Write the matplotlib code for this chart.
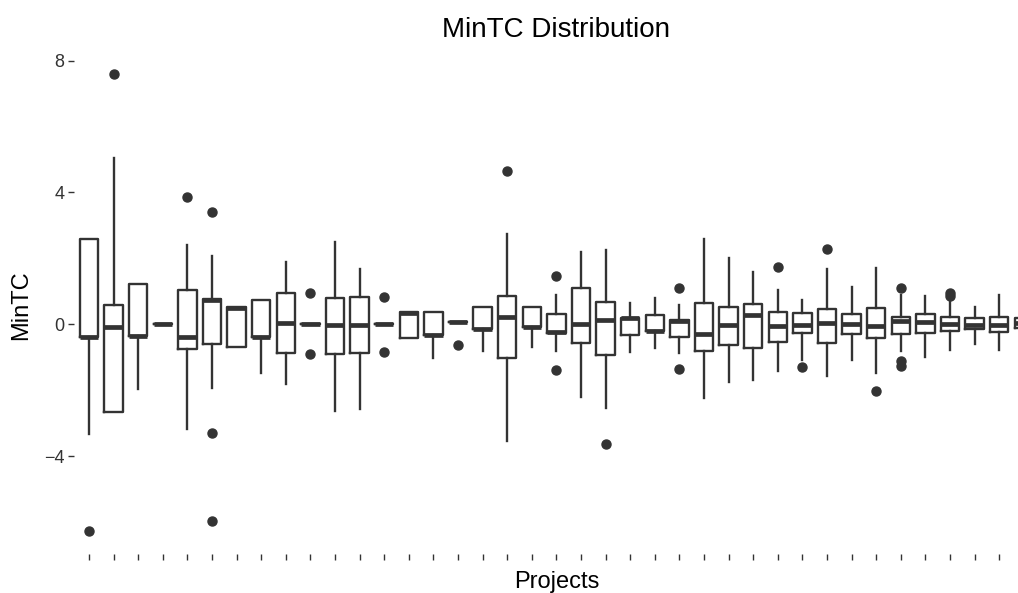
import matplotlib
matplotlib.use("Agg")
import matplotlib.pyplot as plt

# 各プロジェクトの箱ひげ図の統計値
whislo = [-3.33, -2.65, -1.97, 0.0, -3.18, -1.93, -0.67, -1.46, -1.82, 0.0,
          -2.61, -2.55, 0.0, -0.40, -1.03, 0.08, -0.81, -3.54, -0.68, -0.81,
          -2.19, -2.54, -0.84, -0.71, -0.86, -2.24, -1.74, -1.67, -1.41, -1.08,
          -1.57, -1.09, -1.46, -0.81, -0.99, -0.76, -0.58, -0.78, -0.10]
q1 = [-0.38, -2.65, -0.35, 0.0, -0.74, -0.60, -0.67, -0.38, -0.88, 0.0,
      -0.91, -0.87, 0.0, -0.40, -0.33, 0.08, -0.15, -1.03, -0.07, -0.26,
      -0.56, -0.94, -0.33, -0.21, -0.38, -0.81, -0.61, -0.71, -0.52, -0.27,
      -0.57, -0.29, -0.42, -0.28, -0.25, -0.20, -0.15, -0.23, -0.10]
med = [-0.38, -0.07, -0.35, 0.0, -0.38, 0.74, 0.50, -0.38, 0.04, 0.0,
       -0.03, -0.02, 0.0, 0.36, -0.33, 0.08, -0.15, 0.24, -0.07, -0.23,
       0.02, 0.13, 0.18, -0.21, 0.10, -0.30, -0.03, 0.29, -0.05, -0.02,
       0.05, 0.02, -0.05, 0.09, 0.07, 0.02, -0.03, -0.03, 0.05]
q3 = [2.58, 0.575, 1.24, 0.0, 1.04, 0.78, 0.53, 0.73, 0.96, 0.0,
      0.80, 0.83, 0.0, 0.38, 0.37, 0.08, 0.54, 0.87, 0.54, 0.32,
      1.11, 0.67, 0.20, 0.29, 0.12, 0.66, 0.53, 0.61, 0.37, 0.35,
      0.47, 0.32, 0.49, 0.23, 0.32, 0.24, 0.21, 0.23, 0.20]
whishi = [2.58, 5.05, 1.24, 0.0, 2.42, 2.07, 0.53, 0.73, 1.89, 0.0,
          2.50, 1.67, 0.0, 0.38, 0.37, 0.08, 0.54, 2.74, 0.54, 0.88,
          2.20, 2.26, 0.66, 0.79, 0.59, 2.58, 2.01, 1.59, 1.04, 0.74,
          1.67, 1.12, 1.72, 0.88, 0.87, 0.69, 0.54, 0.90, 0.20]
fliers = [[-6.27], [7.60], [], [], [3.86], [3.41, -3.28, -5.96], [], [], [], [0.94, -0.91],
          [], [], [0.83, -0.83], [], [], [-0.61], [], [4.65], [], [1.46, -1.38],
          [], [-3.62], [], [], [1.11, -1.36], [], [], [], [1.73], [-1.29],
          [2.30], [], [-2.02], [1.11, -1.12, -1.26], [], [0.96, 0.86], [], [], []]

stats = []
for i in range(len(med)):
    stats.append(dict(whislo=whislo[i], q1=q1[i], med=med[i], q3=q3[i],
                      whishi=whishi[i], fliers=fliers[i]))

col = "#333333"
plt.rcParams["font.family"] = ["Liberation Sans", "DejaVu Sans"]

fig = plt.figure(figsize=(10.18, 5.93), dpi=100)
# パネルは右端で切れている (元画像と同じ)
left, right, top, bottom = 74.2, 1038.6, 51, 554
ax = fig.add_axes([left / 1018, 1 - bottom / 593, (right - left) / 1018, (bottom - top) / 593])

ax.bxp(stats, positions=range(1, len(med) + 1), widths=0.75, showcaps=False,
       boxprops=dict(color=col, linewidth=1.7),
       whiskerprops=dict(color=col, linewidth=1.7),
       medianprops=dict(color=col, linewidth=3.4, solid_capstyle="butt"),
       flierprops=dict(marker="o", markerfacecolor=col, markeredgecolor=col, markersize=6.5))

ax.set_xlim(0.4, len(med) + 0.6)
ax.set_ylim(-6.96, 8.29)
ax.set_xticks(range(1, len(med) + 1))
ax.set_xticklabels([])
ax.set_yticks([-4, 0, 4, 8])
ax.set_yticklabels(["\u22124", "0", "4", "8"])
ax.tick_params(axis="both", direction="out", length=4, width=1.0, color=col,
               labelsize=13, labelcolor="#333333", pad=3)
for s in ax.spines.values():
    s.set_visible(False)

cx = (left + right) / 2 / 1018
fig.text(cx, 1 - 37 / 593, "MinTC Distribution", ha="center", va="baseline", fontsize=20)
fig.text(cx, 1 - 588 / 593, "Projects", ha="center", va="baseline", fontsize=17)
fig.text(21 / 1018, 1 - 305 / 593, "MinTC", ha="center", va="center", rotation=90, fontsize=17)

fig.savefig("out.png", dpi=100)
plt.close(fig)
